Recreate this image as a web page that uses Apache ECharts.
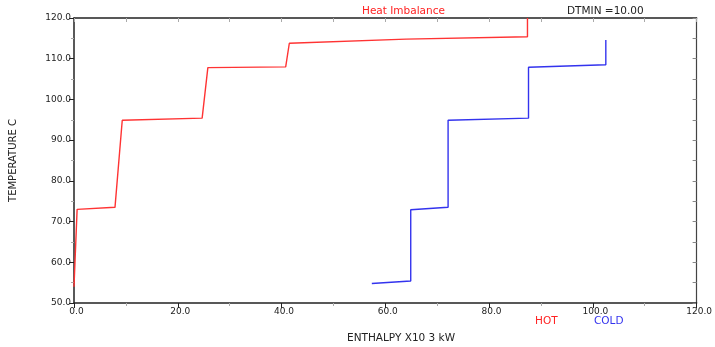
<!DOCTYPE html>
<html>
<head>
<meta charset="utf-8">
<script src="https://cdn.jsdelivr.net/npm/echarts@6/dist/echarts.min.js"></script>
<style>
  html, body { margin: 0; padding: 0; background: #fff; }
  #chart { width: 715px; height: 347px; }
</style>
</head>
<body>
<div id="chart"></div>
<script>
// enthalpy (x10^3 kW) / temperature (C) points of the composite curves
const hotEnthalpy = [0, 0.6, 7.9, 9.3, 24.7, 25.8, 40.8, 41.5, 64.0, 87.4, 87.4]
const hotTemp     = [54.0, 73.0, 73.5, 94.9, 95.4, 107.8, 108.0, 113.8, 114.8, 115.4, 120.0]
const coldEnthalpy = [57.4, 64.9, 64.9, 72.1, 72.1, 87.6, 87.6, 102.5, 102.5]
const coldTemp     = [54.8, 55.4, 72.9, 73.5, 94.9, 95.4, 107.9, 108.5, 114.6]

const xTicks = ['0.0', '20.0', '40.0', '60.0', '80.0', '100.0', '120.0']
const yTicks = ['50.0', '60.0', '70.0', '80.0', '90.0', '100.0', '110.0', '120.0']

const toPairs = (xs, ys) => xs.map((x, i) => [x, ys[i]])

const labelFont = { fontFamily: 'DejaVu Sans', fontSize: 9, color: '#222' }
const textFont = '10.5px "DejaVu Sans"'

const chart = echarts.init(document.getElementById('chart'))
chart.setOption({
  animation: false,
  grid: { left: 74, right: 12, top: 18, bottom: 44, containLabel: false },
  xAxis: [
    {
      type: 'value',
      min: 0,
      max: 120,
      interval: 20,
      axisLine: { show: true, onZero: false, lineStyle: { color: '#222', width: 1.5 } },
      axisTick: { show: true, length: 5, lineStyle: { color: '#222' } },
      minorTick: { show: true, splitNumber: 2, length: 3, lineStyle: { color: '#aaa' } },
      splitLine: { show: false },
      axisLabel: {
        ...labelFont,
        margin: 4,
        padding: [0, 0, 0, 5],
        formatter: (v) => xTicks[Math.round(v / 20)] || ''
      }
    },
    {
      type: 'value',
      position: 'top',
      min: 0,
      max: 120,
      interval: 10,
      axisLine: { show: true, onZero: false, lineStyle: { color: '#222', width: 1.5 } },
      axisTick: { show: true, inside: true, length: 4, lineStyle: { color: '#aaa' } },
      axisLabel: { show: false },
      splitLine: { show: false }
    }
  ],
  yAxis: [
    {
      type: 'value',
      min: 50,
      max: 120,
      interval: 10,
      name: 'TEMPERATURE C',
      nameLocation: 'middle',
      nameGap: 56,
      nameTextStyle: { ...labelFont, fontSize: 10 },
      axisLine: { show: true, onZero: false, lineStyle: { color: '#222', width: 1.5 } },
      axisTick: { show: true, length: 5, lineStyle: { color: '#222' } },
      minorTick: { show: true, splitNumber: 2, length: 3, lineStyle: { color: '#aaa' } },
      splitLine: { show: false },
      axisLabel: {
        ...labelFont,
        margin: 3,
        formatter: (v) => yTicks[Math.round((v - 50) / 10)] || ''
      }
    },
    {
      type: 'value',
      position: 'right',
      min: 50,
      max: 120,
      interval: 5,
      axisLine: { show: true, onZero: false, lineStyle: { color: '#444', width: 1.2 } },
      axisTick: { show: true, inside: true, length: 4, lineStyle: { color: '#888' } },
      axisLabel: { show: false },
      splitLine: { show: false }
    }
  ],
  graphic: [
    { type: 'text', left: 362, top: 6, style: { text: 'Heat Imbalance', fill: '#f22', font: textFont } },
    { type: 'text', left: 567, top: 6, style: { text: 'DTMIN =10.00', fill: '#222', font: textFont } },
    { type: 'text', left: 535, top: 316, style: { text: 'HOT', fill: '#f22', font: textFont } },
    { type: 'text', left: 594, top: 316, style: { text: 'COLD', fill: '#33e', font: textFont } },
    { type: 'text', left: 347, top: 333, style: { text: 'ENTHALPY X10 3 kW', fill: '#222', font: textFont } }
  ],
  series: [
    {
      name: 'HOT',
      type: 'line',
      data: toPairs(hotEnthalpy, hotTemp),
      showSymbol: false,
      lineStyle: { color: '#f33', width: 1.4 },
      z: 3
    },
    {
      name: 'COLD',
      type: 'line',
      data: toPairs(coldEnthalpy, coldTemp),
      showSymbol: false,
      lineStyle: { color: '#33e', width: 1.4 },
      z: 3
    }
  ]
})
</script>
</body>
</html>
